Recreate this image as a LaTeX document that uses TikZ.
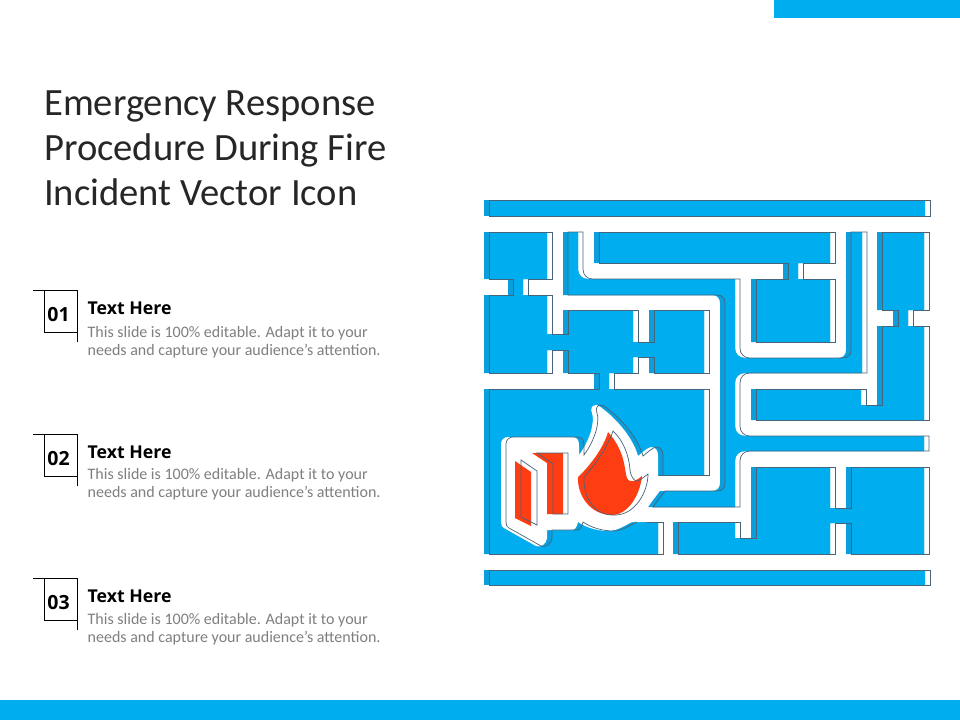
\documentclass[tikz,border=0pt]{standalone}
\usepackage{fontspec}
\setmainfont{Carlito}
\newfontfamily\headfont{Open Sans}
\definecolor{bluea}{HTML}{00AEEF}
\definecolor{blued}{HTML}{0A9EDC}
\definecolor{linec}{HTML}{46647A}
\definecolor{redf}{HTML}{FF3D12}
\definecolor{bodyc}{HTML}{7F7F7F}
\def\pTop{(484,200)--(925,200)--(925,216)--(484,216)--cycle}
\def\pBot{(484,570)--(925,570)--(925,585)--(484,585)--cycle}
\def\pRoom{(484,232)--(547,232)--(547,279)--(523,279)--(523,295)--(547,295)--(547,334)--(563,334)--(563,310)--(633,310)--(633,342)--(649,342)--(649,310)--(704,310)--(704,373)--(649,373)--(649,357)--(633,357)--(633,373)--(609,373)--(609,389)--(704,389)--(704,475)--(640,475)--(640,522)--(658,522)--(658,554)--(484,554)--(484,389)--(594,389)--(594,373)--(563,373)--(563,350)--(547,350)--(547,373)--(484,373)--(484,295)--(508,295)--(508,279)--(484,279)--cycle}
\def\pStrip{(563,232)--(578,232)--(578,269) .. controls (578,275) and (582,279) .. (588,279) -- (735,279) -- (735,348) .. controls (735,354) and (739,358) .. (745,358) -- (838,358) .. controls (843,358) and (846,355) .. (846,350) -- (846,232) -- (862,232) -- (862,373) -- (745,373) .. controls (739,373) and (735,377) .. (735,383) -- (735,426) .. controls (735,432) and (739,436) .. (745,436) -- (924,436) -- (924,451) -- (745,451) .. controls (739,451) and (735,455) .. (735,461) -- (735,507) -- (648,507) -- (660,491) -- (712,491) .. controls (717,491) and (720,488) .. (720,483) -- (720,303) .. controls (720,298) and (717,295) .. (712,295) -- (563,295) -- cycle}
\def\pUpper{(594,232)--(830,232)--(830,263)--(798,263)--(798,279)--(830,279)--(830,342)--(751,342)--(751,279)--(783,279)--(783,263)--(594,263)--cycle}
\def\pRight{(877,232)--(924,232)--(924,310)--(908,310)--(908,326)--(924,326)--(924,420)--(751,420)--(751,389)--(861,389)--(861,405)--(877,405)--(877,326)--(893,326)--(893,310)--(877,310)--cycle}
\def\pLow{(673,522)--(735,522)--(735,538)--(751,538)--(751,467)--(830,467)--(830,508)--(846,508)--(846,467)--(924,467)--(924,554)--(846,554)--(846,523)--(830,523)--(830,554)--(673,554)--cycle}
\def\pHalo{(658,475)--(658,455) .. controls (658,450) and (655,447) .. (651,447) .. controls (647,448) and (643,452) .. (638,456) .. controls (634,441) and (621,424) .. (608,413) .. controls (603,409) and (599,405) .. (596,405) .. controls (592,405) and (590,409) .. (592,413) .. controls (595,422) and (590,440) .. (579,455) -- (579,445) .. controls (579,440) and (577,437) .. (572,437) -- (508,437) .. controls (504,437) and (501,440) .. (501,444) -- (501,522) .. controls (501,525) and (502,527) .. (504,528) -- (536,546) .. controls (540,548) and (547,544) .. (547,538) -- (547,530) -- (572,530) .. controls (575,530) and (577,527) .. (578,522) .. controls (585,527) and (597,531) .. (608,531) .. controls (617,531) and (624,526) .. (632,522)}
\newcommand{\bluepart}[1]{%
  \fill[blued] #1;
  \begin{scope}
    \clip #1;
    \fill[bluea,xshift=5pt] #1;
  \end{scope}}
\tikzset{
  wall/.style={draw=linec,line width=0.7pt,line join=miter},
  mark line/.style={draw=black,line width=0.7pt},
  numtext/.style={font=\headfont\bfseries\fontsize{19.5}{24}\selectfont,text=black,anchor=center,inner sep=0pt},
  headtext/.style={font=\headfont\bfseries\fontsize{17.7}{22}\selectfont,text=black,anchor=west,inner sep=0pt},
  bodytext/.style={font=\fontsize{16}{18.3}\selectfont,text=bodyc,anchor=north west,inner sep=0pt,align=left},
}
\begin{document}
\begin{tikzpicture}[x=1pt,y=-1pt]
\useasboundingbox (0,0) rectangle (960,720);
\fill[white] (0,0) rectangle (960,720);
\fill[bluea] (774,0) rectangle (960,18);
\fill[bluea] (0,700) rectangle (960,720);
\node[anchor=north west,inner sep=0pt,align=left,font=\fontsize{38.6}{45}\selectfont,text=black!85] (title) at (44,90.5) {Emergency Response\\Procedure During Fire\\Incident Vector Icon};
\foreach \n/\t/\lab/\by in {a/0/01/326,b/144/02/324,c/288/03/325}{
  \begin{scope}[yshift=-\t pt]
    \draw[mark line] (33,290)--(77,290)--(77,342);
    \draw[mark line] (44,290)--(44,332)--(77,332);
    \node[numtext] (num\n) at (58.5,315) {\lab};
    \node[headtext] (head\n) at (87.5,308.5) {Text Here};
    \node[bodytext] (body\n) at (87.5,\by) {This slide is 100\% editable. Adapt it to your\\needs and capture your audience's attention.};
  \end{scope}
}
\bluepart{\pTop}
\bluepart{\pBot}
\bluepart{\pRoom}
\bluepart{\pStrip}
\bluepart{\pUpper}
\bluepart{\pRight}
\bluepart{\pLow}
\begin{scope}[xshift=5pt]
  \path[wall] \pTop;
  \path[wall] \pBot;
  \path[wall] \pRoom;
  \path[wall] \pStrip;
  \path[wall] \pUpper;
  \path[wall] \pRight;
  \path[wall] \pLow;
\end{scope}
\begin{scope}
  \clip \pRoom;
  \fill[blued,xshift=5pt] \pHalo --(648,522)--(648,475)--cycle;
\end{scope}
\fill[white] \pHalo --(648,522)--(648,507)--(658,491)--cycle;
\path[wall,xshift=5pt] \pHalo;
% door
\fill[redf] (515,461)--(531,472)--(531,526)--(515,518)--cycle;
\fill[redf] (532,453)--(563,453)--(563,514)--(547,514)--(547,463)--cycle;
\path[wall] (521,460)--(537,471)--(537,525)--(521,517)--cycle;
\path[wall] (537,453)--(568,453)--(568,514)--(553,514)--(553,464)--cycle;
% flame
\fill[redf] (608,432) .. controls (604,447) and (590,466) .. (578,477) .. controls (577,495) and (590,515) .. (612,515) .. controls (628,515) and (640,495) .. (642,476) .. controls (636,481) and (630,484) .. (627,478) .. controls (624,470) and (626,452) .. (608,432) -- cycle;
\path[wall] (613,431) .. controls (623,440) and (629,455) .. (630,470) .. controls (631,478) and (636,484) .. (640,480) -- (648,474) .. controls (648,492) and (635,515) .. (615,515) .. controls (596,516) and (583,500) .. (584,477) .. controls (595,465) and (607,448) .. (613,431) -- cycle;
\end{tikzpicture}
\end{document}
